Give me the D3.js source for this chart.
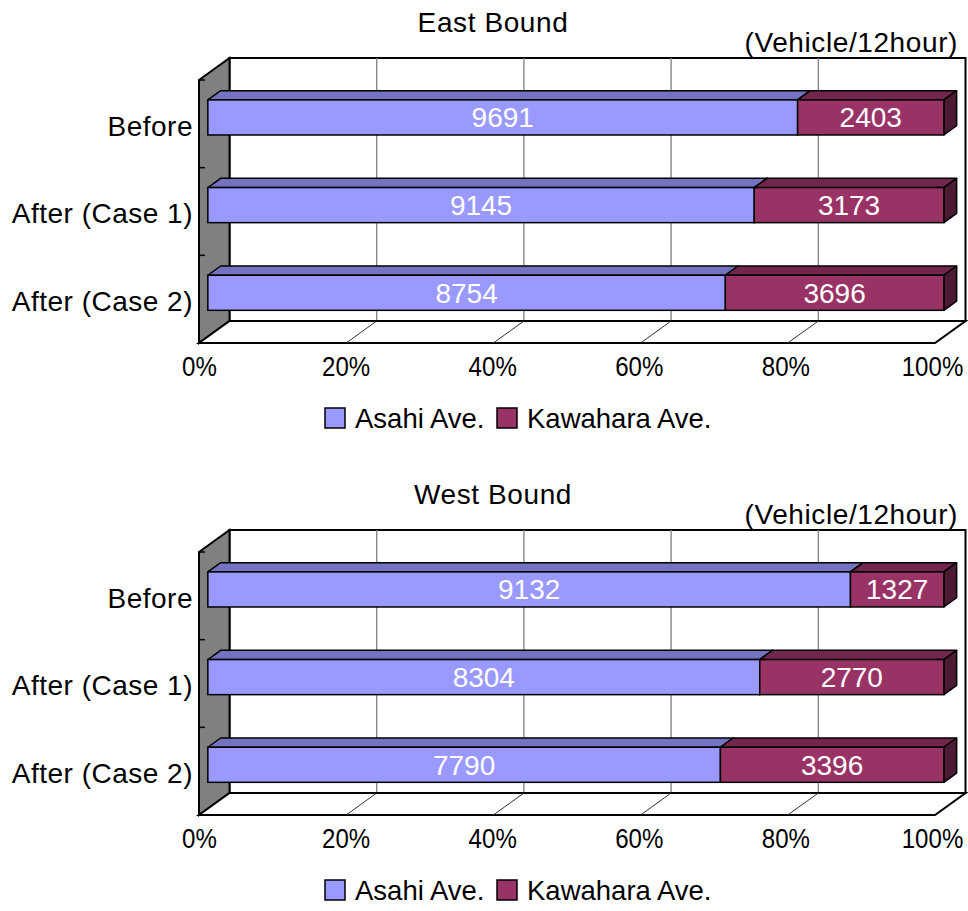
<!DOCTYPE html>
<html>
<head>
<meta charset="utf-8">
<script src="https://cdn.jsdelivr.net/npm/d3@7"></script>
<style>
  body { margin: 0; background: #fff; }
  svg text { font-family: "Liberation Sans", Arial, sans-serif; }
</style>
</head>
<body>
<svg id="chart" width="968" height="911"></svg>
<script>

var categories = ['Before', 'After (Case 1)', 'After (Case 2)'];
var series = ['Asahi Ave.', 'Kawahara Ave.'];
var east_asahi = [9691, 9145, 8754];
var east_kawahara = [2403, 3173, 3696];
var west_asahi = [9132, 8304, 7790];
var west_kawahara = [1327, 2770, 3396];
var pct_ticks = [0, 0.2, 0.4, 0.6, 0.8, 1];

var colors = [
  {front: '#9999ff', top: '#7373c0', side: '#4d4d80'},
  {front: '#993366', top: '#73264d', side: '#4d1a33'}
];

var DX = 30.5, DY = 22;          // depth offset of the back wall
var Z0 = 0.29, Z1 = 0.71;        // bar depth span
var FS = 28;

var x = d3.scaleLinear().domain([0, 1]).range([199, 935]);
var y = d3.scaleBand().domain(categories).range([80, 343]);
var bar_h = y.bandwidth() * 0.4;

// project a point at value v, front-plane y, depth z
var px = (v, z) => x(v) + z * DX;
var py = (yy, z) => yy - z * DY;
var pts = arr => arr.map(p => p.join(',')).join(' ');

var svg = d3.select('#chart');

function draw_chart(offset_y, title, asahi, kawahara)
{
  var g = svg.append('g').attr('transform', 'translate(0,' + offset_y + ')');
  var y0 = y.range()[0], y1 = y.range()[1];

  g.append('text')
    .attr('x', 493).attr('y', 32)
    .attr('text-anchor', 'middle')
    .attr('font-size', FS)
    .attr('letter-spacing', 0.6)
    .text(title);

  g.append('text')
    .attr('x', 958).attr('y', 52)
    .attr('text-anchor', 'end')
    .attr('font-size', FS)
    .attr('letter-spacing', 0.6)
    .text('(Vehicle/12hour)');

  // back wall
  g.append('polygon')
    .attr('points', pts([[px(0,1), py(y0,1)], [px(1,1), py(y0,1)], [px(1,1), py(y1,1)], [px(0,1), py(y1,1)]]))
    .attr('fill', 'white').attr('stroke', 'black').attr('stroke-width', 2);

  // gridlines on back wall
  g.append('g').selectAll('line')
    .data(pct_ticks.slice(1, -1))
    .enter().append('line')
    .attr('x1', d => px(d, 1)).attr('x2', d => px(d, 1))
    .attr('y1', py(y0, 1)).attr('y2', py(y1, 1))
    .attr('stroke', '#808080').attr('stroke-width', 1.3);

  // side wall
  g.append('polygon')
    .attr('points', pts([[px(0,0), py(y0,0)], [px(0,1), py(y0,1)], [px(0,1), py(y1,1)], [px(0,0), py(y1,0)]]))
    .attr('fill', '#808080').attr('stroke', 'black').attr('stroke-width', 2);

  // floor
  g.append('polygon')
    .attr('points', pts([[px(0,0), py(y1,0)], [px(1,0), py(y1,0)], [px(1,1), py(y1,1)], [px(0,1), py(y1,1)]]))
    .attr('fill', 'white').attr('stroke', 'black').attr('stroke-width', 2);

  g.append('g').selectAll('line')
    .data(pct_ticks.slice(1, -1))
    .enter().append('line')
    .attr('x1', d => px(d, 0)).attr('x2', d => px(d, 1))
    .attr('y1', py(y1, 0)).attr('y2', py(y1, 1))
    .attr('stroke', '#333').attr('stroke-width', 1);

  // category ticks on the side wall
  g.append('g').selectAll('line')
    .data(categories.map(c => y(c)))
    .enter().append('line')
    .attr('x1', px(0, 0) - 1).attr('x2', px(0, 0) + 6)
    .attr('y1', d => d).attr('y2', d => d)
    .attr('stroke', 'black').attr('stroke-width', 1.5);

  // x axis labels (the original font is narrower on these)
  var x_axis = g.append('g')
    .attr('transform', 'translate(0,' + y1 + ')')
    .call(d3.axisBottom(x).tickValues(pct_ticks).tickFormat(d3.format('.0%')).tickSize(0).tickPadding(13));
  x_axis.select('.domain').remove();
  x_axis.selectAll('text').attr('font-size', FS).attr('fill', 'black')
    .attr('font-family', '"Liberation Sans", Arial, sans-serif')
    .attr('transform', d => 'translate(' + (-3 * d) + ',0) scale(0.86,1)');

  // category labels
  var y_axis = g.append('g')
    .attr('transform', 'translate(' + x(0) + ',3)')
    .call(d3.axisLeft(y).tickSize(0).tickPadding(6));
  y_axis.select('.domain').remove();
  y_axis.selectAll('text').attr('font-size', FS).attr('fill', 'black').attr('letter-spacing', 0.5)
    .attr('font-family', '"Liberation Sans", Arial, sans-serif');

  // bars
  categories.forEach((c, i) => {
    var total = asahi[i] + kawahara[i];
    var vals = [asahi[i], kawahara[i]];
    var start = 0;
    var top = y(c) + (y.bandwidth() - bar_h) / 2;
    var bot = top + bar_h;
    vals.forEach((v, k) => {
      var a = start / total, b = (start + v) / total;
      var bg = g.append('g');
      bg.append('polygon')
        .attr('points', pts([[px(a,Z0), py(top,Z0)], [px(a,Z1), py(top,Z1)], [px(b,Z1), py(top,Z1)], [px(b,Z0), py(top,Z0)]]))
        .attr('fill', colors[k].top).attr('stroke', 'black').attr('stroke-width', 1.5).attr('stroke-linejoin', 'round');
      bg.append('polygon')
        .attr('points', pts([[px(b,Z0), py(top,Z0)], [px(b,Z1), py(top,Z1)], [px(b,Z1), py(bot,Z1)], [px(b,Z0), py(bot,Z0)]]))
        .attr('fill', colors[k].side).attr('stroke', 'black').attr('stroke-width', 1.5).attr('stroke-linejoin', 'round');
      bg.append('rect')
        .attr('x', px(a, Z0)).attr('y', py(top, Z0))
        .attr('width', px(b, Z0) - px(a, Z0)).attr('height', bar_h)
        .attr('fill', colors[k].front).attr('stroke', 'black').attr('stroke-width', 1.5);
      bg.append('text')
        .attr('x', (px(a, Z0) + px(b, Z0)) / 2)
        .attr('y', py(top, Z0) + bar_h / 2 + 10)
        .attr('text-anchor', 'middle')
        .attr('font-size', FS)
        .attr('fill', 'white')
        .text(v);
      start += v;
    });
  });

  // legend
  var legend_x = [325, 497];
  series.forEach((s, k) => {
    g.append('rect')
      .attr('x', legend_x[k]).attr('y', 408)
      .attr('width', 20).attr('height', 20)
      .attr('fill', colors[k].front).attr('stroke', 'black').attr('stroke-width', 1.5);
    g.append('text')
      .attr('x', legend_x[k] + 30).attr('y', 428)
      .attr('font-size', 27.5)
      .text(s);
  });
}

draw_chart(0, 'East Bound', east_asahi, east_kawahara);
draw_chart(472, 'West Bound', west_asahi, west_kawahara);

</script>
</body>
</html>
